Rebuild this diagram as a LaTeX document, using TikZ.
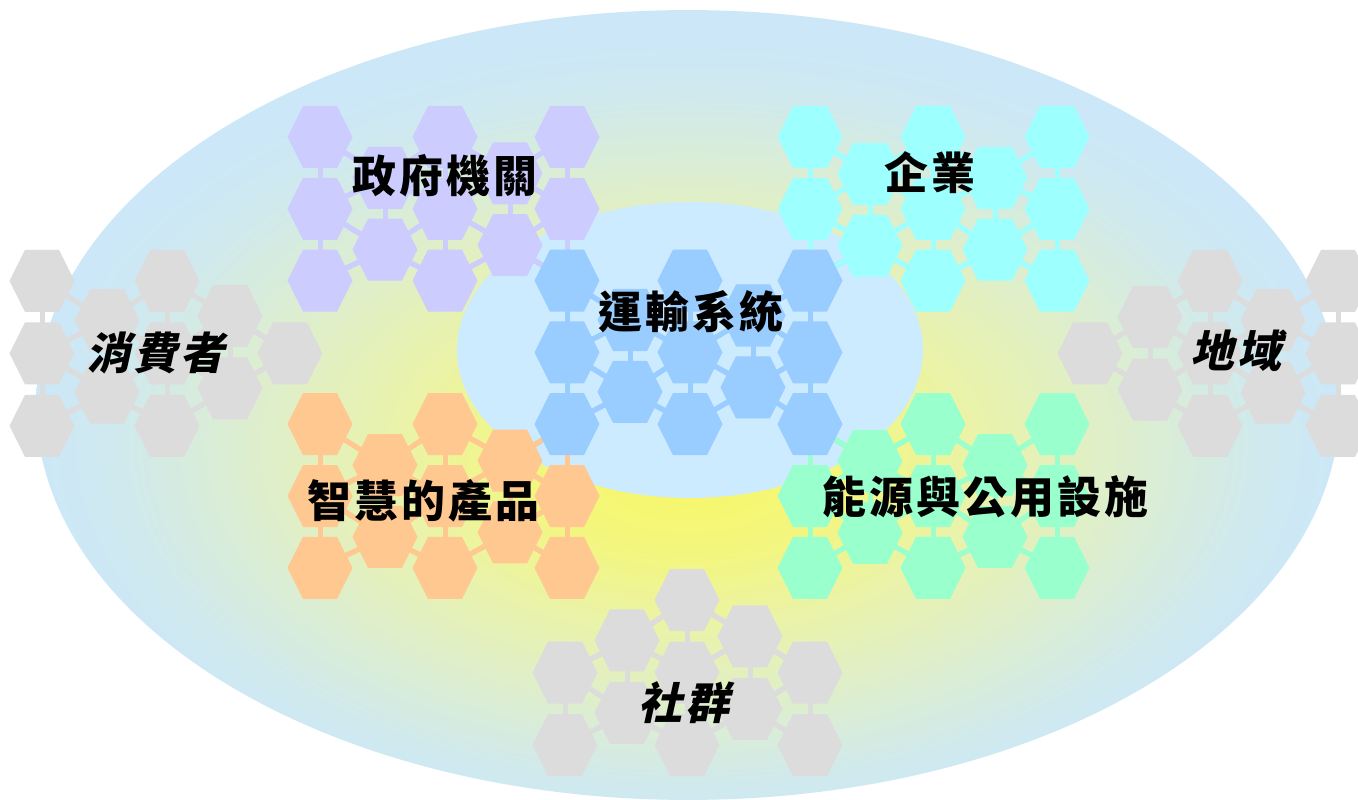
\documentclass[tikz,border=0pt]{standalone}
\usepackage{fontspec}
\newfontfamily\cjk{Noto Sans CJK TC}[LetterSpace=7]
\newfontfamily\cjkslant{Noto Sans CJK TC}[LetterSpace=7,FakeSlant=0.22]

\definecolor{govfill}{HTML}{CCCCFF}
\definecolor{bizfill}{HTML}{9EFFFF}
\definecolor{carfill}{HTML}{99CCFF}
\definecolor{prodfill}{HTML}{FFC891}
\definecolor{powerfill}{HTML}{99FFCC}
\definecolor{greyfill}{HTML}{DCDCDC}
\definecolor{coreblue}{HTML}{CCEBFF}
\definecolor{glowa}{HTML}{F8F866}
\definecolor{glowb}{HTML}{F3F67E}
\definecolor{glowc}{HTML}{EAF3A8}
\definecolor{glowd}{HTML}{DDEECF}
\definecolor{glowe}{HTML}{CFE9EE}
\definecolor{glowf}{HTML}{CCE8F8}

\pgfdeclareradialshading{glow}{\pgfpoint{0bp}{-4bp}}{%
    color(0bp)=(glowa); color(6bp)=(glowb); color(11bp)=(glowc);
    color(17bp)=(glowd); color(22bp)=(glowe); color(25bp)=(glowf); color(50bp)=(glowf)}

\tikzstyle{textstyle} = [
    inner sep=0pt,
    font=\cjk\bfseries\fontsize{25}{30}\selectfont,
]
\tikzstyle{slantstyle} = [
    inner sep=0pt,
    font=\cjkslant\bfseries\fontsize{25}{30}\selectfont,
]
\tikzstyle{link} = [
    line width=0.1cm,
]

% cells: column/halfrow/colour
\newcommand{\corecells}{4/4/carfill,4/6/carfill,4/8/carfill,5/5/carfill,5/7/carfill,
    6/4/carfill,6/6/carfill,6/8/carfill,7/5/carfill,7/7/carfill,8/4/carfill,8/6/carfill,8/8/carfill}
\newcommand{\ringcells}{0/0/govfill,0/2/govfill,0/4/govfill,1/1/govfill,1/3/govfill,
    2/0/govfill,2/2/govfill,2/4/govfill,3/1/govfill,3/3/govfill,4/0/govfill,4/2/govfill,
    8/0/bizfill,8/2/bizfill,9/1/bizfill,9/3/bizfill,10/0/bizfill,10/2/bizfill,10/4/bizfill,
    11/1/bizfill,11/3/bizfill,12/0/bizfill,12/2/bizfill,12/4/bizfill,
    0/8/prodfill,0/10/prodfill,0/12/prodfill,1/9/prodfill,1/11/prodfill,2/8/prodfill,
    2/10/prodfill,2/12/prodfill,3/9/prodfill,3/11/prodfill,4/10/prodfill,4/12/prodfill,
    8/10/powerfill,8/12/powerfill,9/9/powerfill,9/11/powerfill,10/8/powerfill,
    10/10/powerfill,10/12/powerfill,11/9/powerfill,11/11/powerfill,12/8/powerfill,
    12/10/powerfill,12/12/powerfill}
\newcommand{\consumercells}{0/0/greyfill,0/2/greyfill,0/4/greyfill,1/1/greyfill,1/3/greyfill,
    2/0/greyfill,2/2/greyfill,2/4/greyfill,3/1/greyfill,3/3/greyfill,4/2/greyfill}
\newcommand{\regioncells}{0/2/greyfill,1/1/greyfill,1/3/greyfill,2/0/greyfill,2/2/greyfill,
    2/4/greyfill,3/1/greyfill,3/3/greyfill,4/0/greyfill,4/2/greyfill,4/4/greyfill}
\newcommand{\communitycells}{0/2/greyfill,0/4/greyfill,1/1/greyfill,1/3/greyfill,2/0/greyfill,
    2/2/greyfill,2/4/greyfill,3/1/greyfill,3/3/greyfill,4/2/greyfill,4/4/greyfill}

% prefix, cells, x list, top y, half step, skew list
\newcommand{\placecells}[6]{%
    \foreach \c/\k/\col in #2 {
        \pgfmathsetmacro{\hx}{{#3}[\c]}
        \pgfmathsetmacro{\hy}{#4+#5*\k+{#6}[\c]}
        \coordinate (#1-\c-\k) at (\hx,\hy);
    }}
\newcommand{\linkcells}[2]{%
    \foreach \c/\k/\col in #2 {
        \foreach \dc/\dk in {0/2,0/-2,1/1,1/-1,-1/1,-1/-1} {
            \pgfmathtruncatemacro{\nc}{\c+\dc}
            \pgfmathtruncatemacro{\nk}{\k+\dk}
            \ifcsname pgf@sh@ns@#1-\nc-\nk\endcsname
                \draw[link,draw=\col] (#1-\c-\k) -- (#1-\nc-\nk);
            \fi
        }
    }}
\newcommand{\drawcells}[2]{%
    \foreach \c/\k/\col in #2 {
        \fill[fill=\col] (#1-\c-\k) +(-32.5,0) -- +(-17,-31) -- +(17,-31)
            -- +(32.5,0) -- +(17,31) -- +(-17,31) -- cycle;
    }}

\begin{document}
\begin{tikzpicture}[x=0.02cm, y=-0.02cm]
    \useasboundingbox (0,0) rectangle (1358,800);
    \clip (0,0) rectangle (1358,800);
    \fill[white] (0,0) rectangle (1358,800);
    \shade[shading=glow] (688,405) ellipse [x radius=13.04cm, y radius=7.9cm];
    \fill[coreblue] (690,350) ellipse [x radius=4.66cm, y radius=2.96cm];

    %% centres of the cells
    \placecells{m}{\corecells}{320,385,445,510,567,630,690,753,810,870,933,995,1057}{137}{35.9}{0,5,0,0.5,0,3.5,0,-1,0,1,0,5,0}
    \placecells{m}{\ringcells}{320,385,445,510,567,630,690,753,810,870,933,995,1057}{137}{35.9}{0,5,0,0.5,0,3.5,0,-1,0,1,0,5,0}
    \placecells{p}{\consumercells}{42,107,167,230,290}{281}{36.2}{0,3,0,-1.3,0}
    \placecells{r}{\regioncells}{1090,1150,1210,1273,1338}{281}{36.2}{0,0,0,3,0}
    \placecells{s}{\communitycells}{565,627,687,750,810}{600}{36.3}{0,4,0,0,0}

    %% links, then cells on top
    \linkcells{m}{\corecells}
    \linkcells{m}{\ringcells}
    \linkcells{p}{\consumercells}
    \linkcells{r}{\regioncells}
    \linkcells{s}{\communitycells}
    \drawcells{m}{\corecells}
    \drawcells{m}{\ringcells}
    \drawcells{p}{\consumercells}
    \drawcells{r}{\regioncells}
    \drawcells{s}{\communitycells}

    \node (transport) [textstyle] at (691,312) {運輸系統};
    \node (government) [textstyle] at (445,176) {政府機關};
    \node (enterprise) [textstyle] at (930,173) {企業};
    \node (products) [textstyle] at (423,501) {智慧的產品};
    \node (energy) [textstyle] at (985,497) {能源與公用設施};
    \node (consumer) [slantstyle] at (155,353) {消費者};
    \node (region) [slantstyle] at (1236,351) {地域};
    \node (community) [slantstyle] at (684,703) {社群};
\end{tikzpicture}
\end{document}
